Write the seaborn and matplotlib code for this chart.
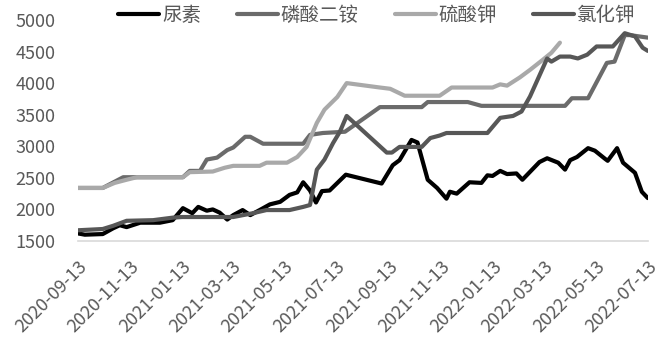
import numpy as np
import pandas as pd
import seaborn as sns
import matplotlib.pyplot as plt
import matplotlib.dates as mdates

# 尿素
urea_dates = ["2020-09-13", "2020-09-21", "2020-10-12", "2020-10-24", "2020-11-01", "2020-11-09",
              "2020-11-25", "2020-12-18", "2021-01-02", "2021-01-14", "2021-01-25", "2021-02-01",
              "2021-02-11", "2021-02-18", "2021-02-26", "2021-03-07", "2021-03-14", "2021-03-25",
              "2021-04-03", "2021-04-14", "2021-04-26", "2021-05-08", "2021-05-19", "2021-05-28",
              "2021-06-04", "2021-06-12", "2021-06-19", "2021-06-26", "2021-07-05", "2021-07-24",
              "2021-09-04", "2021-09-17", "2021-09-25", "2021-10-09", "2021-10-16", "2021-10-28",
              "2021-11-08", "2021-11-19", "2021-11-23", "2021-12-01", "2021-12-16", "2021-12-30",
              "2022-01-06", "2022-01-12", "2022-01-21", "2022-01-29", "2022-02-09", "2022-02-16",
              "2022-03-08", "2022-03-17", "2022-03-30", "2022-04-07", "2022-04-13", "2022-04-21",
              "2022-05-04", "2022-05-12", "2022-05-24", "2022-05-27", "2022-06-07", "2022-06-14",
              "2022-06-28", "2022-07-06", "2022-07-13"]
urea = [1620, 1600, 1610, 1700, 1750, 1720,
        1790, 1790, 1830, 2020, 1940, 2040,
        1980, 2000, 1950, 1840, 1910, 1990,
        1910, 1990, 2080, 2120, 2230, 2270,
        2430, 2300, 2110, 2290, 2300, 2550,
        2410, 2700, 2780, 3100, 3060, 2470,
        2340, 2170, 2280, 2250, 2430, 2420,
        2540, 2530, 2610, 2560, 2570, 2470,
        2750, 2810, 2740, 2630, 2780, 2830,
        2970, 2930, 2800, 2770, 2970, 2740,
        2580, 2280, 2180]

# 磷酸二铵
dap_dates = ["2020-09-13", "2020-10-12", "2020-11-05", "2021-01-14", "2021-01-22", "2021-02-03",
             "2021-02-11", "2021-02-23", "2021-03-07", "2021-03-14", "2021-03-28", "2021-04-03",
             "2021-04-18", "2021-06-04", "2021-06-12", "2021-06-27", "2021-07-23", "2021-09-02",
             "2021-10-21", "2021-10-28", "2021-12-14", "2021-12-30", "2022-04-07", "2022-04-15",
             "2022-05-04", "2022-05-26", "2022-06-04", "2022-06-16", "2022-06-22", "2022-07-13"]
dap = [2340, 2340, 2510, 2510, 2610, 2610,
       2790, 2820, 2940, 2980, 3150, 3150,
       3040, 3040, 3180, 3210, 3230, 3620,
       3620, 3700, 3700, 3640, 3640, 3760,
       3760, 4320, 4340, 4760, 4760, 4720]

# 硫酸钾
sop_dates = ["2020-09-13", "2020-10-12", "2020-10-26", "2020-11-09", "2020-11-21", "2021-01-14",
             "2021-01-22", "2021-02-18", "2021-03-04", "2021-03-14", "2021-04-14", "2021-04-22",
             "2021-05-16", "2021-05-28", "2021-06-08", "2021-06-20", "2021-06-29", "2021-07-14",
             "2021-07-25", "2021-09-02", "2021-09-14", "2021-10-01", "2021-11-11", "2021-11-25",
             "2022-01-12", "2022-01-21", "2022-01-29", "2022-02-13", "2022-02-25", "2022-03-12",
             "2022-03-22", "2022-04-01"]
sop = [2340, 2340, 2420, 2470, 2510, 2510,
       2590, 2600, 2660, 2690, 2690, 2740,
       2740, 2830, 2990, 3370, 3580, 3780,
       4000, 3930, 3910, 3800, 3800, 3930,
       3930, 3980, 3960, 4090, 4210, 4370,
       4480, 4640]

# 氯化钾
kcl_dates = ["2020-09-13", "2020-10-12", "2020-10-24", "2020-11-09", "2020-12-10", "2021-01-02",
             "2021-01-13", "2021-03-14", "2021-04-06", "2021-04-22", "2021-05-19", "2021-06-04",
             "2021-06-12", "2021-06-20", "2021-06-29", "2021-07-09", "2021-07-17", "2021-07-25",
             "2021-09-10", "2021-09-16", "2021-09-25", "2021-10-21", "2021-10-31", "2021-11-11",
             "2021-11-19", "2022-01-06", "2022-01-21", "2022-02-05", "2022-02-15", "2022-02-25",
             "2022-03-17", "2022-03-22", "2022-04-01", "2022-04-13", "2022-04-22", "2022-05-03",
             "2022-05-14", "2022-06-02", "2022-06-16", "2022-06-28", "2022-07-07", "2022-07-13"]
kcl = [1670, 1690, 1740, 1820, 1830, 1870,
       1880, 1880, 1940, 1990, 1990, 2040,
       2070, 2630, 2790, 3050, 3230, 3480,
       2900, 2900, 2990, 2990, 3130, 3170,
       3210, 3210, 3450, 3480, 3550, 3790,
       4390, 4340, 4420, 4420, 4390, 4450,
       4580, 4580, 4790, 4740, 4560, 4510]

names = ["尿素", "磷酸二铵", "硫酸钾", "氯化钾"]
colors = ["#000000", "#6b6b6b", "#a9a9a9", "#575757"]

frames = []
for nm, d, v in zip(names, [urea_dates, dap_dates, sop_dates, kcl_dates], [urea, dap, sop, kcl]):
    frames.append(pd.DataFrame({"date": pd.to_datetime(d), "price": v, "品种": nm}))
df = pd.concat(frames, ignore_index=True)

sns.set_theme(style="white")
plt.rcParams['font.family'] = ['Noto Sans CJK SC', 'DejaVu Sans']

fig = plt.figure(figsize=(6.61, 3.56), dpi=100)
ax = fig.add_axes([0.118, 0.323, 0.862, 0.621])

sns.lineplot(data=df, x="date", y="price", hue="品种", hue_order=names,
             palette=dict(zip(names, colors)), linewidth=3, ax=ax, legend=False)

ax.set_ylim(1500, 5000)
ax.set_yticks(np.arange(1500, 5001, 500))
ax.set_xlim(pd.Timestamp("2020-09-13"), pd.Timestamp("2022-07-13"))
tick_dates = pd.date_range("2020-09-01", "2022-07-01", freq="2MS") + pd.Timedelta(days=12)
ax.set_xticks(tick_dates)
ax.xaxis.set_major_formatter(mdates.DateFormatter("%Y-%m-%d"))
ax.set_xlabel("")
ax.set_ylabel("")

for s in ["top", "right", "left"]:
    ax.spines[s].set_visible(False)
ax.spines["bottom"].set_color("#d9d9d9")
ax.spines["bottom"].set_linewidth(1.2)

ax.tick_params(axis="y", length=0, pad=16, labelsize=13, labelcolor="#595959")
ax.tick_params(axis="x", length=0, pad=12, labelsize=13, labelcolor="#595959")
for lab in ax.get_xticklabels():
    lab.set_rotation(45)
    lab.set_ha("right")
    lab.set_rotation_mode("anchor")

handles = [plt.Line2D([], [], color=c, lw=3) for c in colors]
fig.legend(handles, names, loc="center", bbox_to_anchor=(0.57, 0.956), ncol=4,
           frameon=False, fontsize=14, handlelength=2.1, handletextpad=0.15,
           columnspacing=1.85, labelcolor="#595959")

fig.savefig("out.png", dpi=100)
